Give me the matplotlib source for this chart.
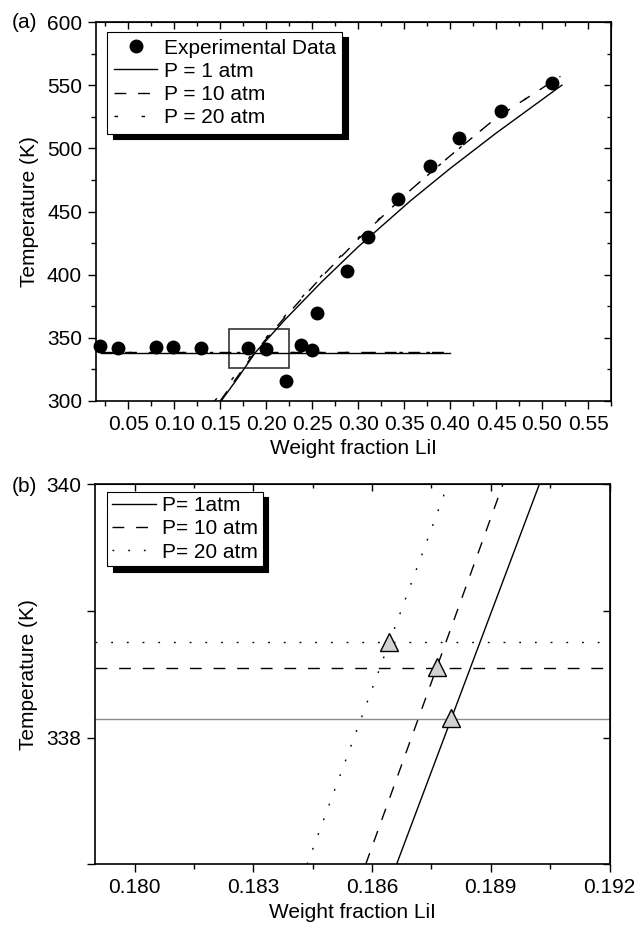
import numpy as np
import matplotlib
matplotlib.use("Agg")
import matplotlib.pyplot as plt
from matplotlib.patches import Rectangle

plt.rcParams['font.family'] = ['Liberation Sans', 'DejaVu Sans']
plt.rcParams['font.size'] = 15

# ---- (a) données ----
x_exp = [0.019, 0.039, 0.080, 0.099, 0.129, 0.180, 0.200, 0.222, 0.238, 0.250,
         0.255, 0.288, 0.311, 0.343, 0.378, 0.410, 0.455, 0.511]
T_exp = [343.7, 341.7, 342.7, 342.5, 341.7, 341.7, 341.1, 315.8, 344.5, 340.6,
         369.9, 402.8, 429.5, 460.0, 486.1, 508.3, 529.9, 551.8]

x_plateau = [0.02, 0.40]
T_plateau_1 = 338.15
T_plateau_10 = 338.55
T_plateau_20 = 338.75

x_rise_1 = [0.151, 0.170, 0.188, 0.22, 0.26, 0.30, 0.357, 0.40, 0.45, 0.5216]
T_rise_1 = [300, 319, 338.15, 364, 394, 422, 458.5, 484, 512, 550]
x_rise_10 = [0.150, 0.1876, 0.22, 0.26, 0.30, 0.357, 0.40, 0.45, 0.52]
T_rise_10 = [300, 338.55, 366, 398, 428, 467, 494, 524, 557]
x_rise_20 = [0.144, 0.1864, 0.22, 0.26, 0.30, 0.357, 0.40, 0.45, 0.52]
T_rise_20 = [300, 338.75, 367, 399, 429, 467, 494, 524, 557]

zoom_box = (0.1594, 325.9, 0.2253, 356.7)

# ---- (b) données ----
x_slant_1 = [0.18662, 0.19023]
x_slant_10 = [0.18584, 0.18931]
x_slant_20 = [0.18436, 0.18792]
T_slant = [337, 340]
x_tri = [0.18643, 0.18763, 0.18799]
T_tri = [338.755, 338.553, 338.155]

dash10 = (0, (8.5, 8.5))
dash20_a = (0, (2.5, 17))
dot20_b = (0, (1.3, 10))

fig = plt.figure(figsize=(6.35, 9.25), dpi=100)
ax1 = fig.add_axes([96/635, 1-401/925, 515/635, 379/925])
ax2 = fig.add_axes([95/635, 1-864.3/925, 514.5/635, 380.3/925])


def mirror_ticks(ax, xmaj, xmin, ymaj, ymin):
    top = ax.secondary_xaxis('top')
    top.set_xticks(xmaj)
    top.set_xticks(xmin, minor=True)
    top.tick_params(which='both', direction='in', labeltop=False, width=1)
    top.tick_params(which='major', length=5)
    top.tick_params(which='minor', length=3)
    right = ax.secondary_yaxis('right')
    right.set_yticks(ymaj)
    right.set_yticks(ymin, minor=True)
    right.tick_params(which='both', direction='in', labelright=False, width=1)
    right.tick_params(which='major', length=5)
    right.tick_params(which='minor', length=3)


# ---------- (a) ----------
ax1.plot(x_exp, T_exp, 'o', color='k', ms=9, zorder=5, clip_on=False,
         label='Experimental Data')
ax1.plot(x_rise_1, T_rise_1, '-', color='k', lw=1, label='P = 1 atm')
ax1.plot(x_plateau, [T_plateau_1]*2, '-', color='k', lw=1)
ax1.plot(x_rise_10, T_rise_10, color='k', lw=1, linestyle=dash10, label='P = 10 atm')
ax1.plot(x_plateau, [T_plateau_10]*2, color='k', lw=1, linestyle=dash10)
ax1.plot(x_rise_20, T_rise_20, color='k', lw=1, linestyle=dash20_a, label='P = 20 atm')
ax1.plot(x_plateau, [T_plateau_20]*2, color='k', lw=1, linestyle=dash20_a)
ax1.add_patch(Rectangle((zoom_box[0], zoom_box[1]), zoom_box[2]-zoom_box[0],
                        zoom_box[3]-zoom_box[1], fill=False, ec='#333333', lw=1.2))

ax1.set_xlim(0.015, 0.575)
ax1.set_ylim(300, 600)
xt1 = np.arange(0.05, 0.551, 0.05)
xm1 = np.arange(0.025, 0.576, 0.05)
yt1 = np.arange(300, 601, 50)
ym1 = np.arange(325, 600, 50)
ax1.set_xticks(xt1)
ax1.set_xticklabels(['%.2f' % v for v in xt1])
ax1.set_xticks(xm1, minor=True)
ax1.set_yticks(yt1)
ax1.set_yticks(ym1, minor=True)
ax1.tick_params(which='both', direction='out', width=1, pad=4)
ax1.tick_params(which='major', length=6)
ax1.tick_params(which='minor', length=3.5)
mirror_ticks(ax1, xt1, xm1, yt1, ym1)
ax1.set_xlabel('Weight fraction LiI', labelpad=4)
ax1.set_ylabel('Temperature (K)', labelpad=6)
for s in ax1.spines.values():
    s.set_linewidth(1.2)
leg1 = ax1.legend(loc='upper left', bbox_to_anchor=(0.0214, 0.974), borderaxespad=0,
                  fancybox=False, edgecolor='k', framealpha=1, fontsize=15,
                  labelspacing=0.2, handlelength=2.1, handletextpad=0.3,
                  borderpad=0.32, shadow={'color': 'k', 'alpha': 1, 'ox': 4, 'oy': -4})
leg1.get_frame().set_linewidth(0.8)
fig.text(12/635, 1-22/925, '(a)', fontsize=15, va='center', ha='left')

# ---------- (b) ----------
ax2.plot(x_slant_1, T_slant, '-', color='k', lw=1, label='P= 1atm')
ax2.plot(x_slant_10, T_slant, color='k', lw=1, linestyle=dash10, label='P= 10 atm')
ax2.plot(x_slant_20, T_slant, color='k', lw=1, linestyle=dot20_b, label='P= 20 atm')
ax2.axhline(T_plateau_1, color='#8c8c8c', lw=1)
ax2.axhline(T_plateau_10, color='k', lw=1, linestyle=dash10)
ax2.axhline(T_plateau_20, color='k', lw=1, linestyle=dot20_b)
ax2.plot(x_tri, T_tri, '^', ms=13.5, mfc='#d2d2d2', mec='k', mew=1, ls='none', zorder=5)

ax2.set_xlim(0.179, 0.192)
ax2.set_ylim(337, 340)
xt2 = [0.180, 0.183, 0.186, 0.189, 0.192]
xm2 = [0.1815, 0.1845, 0.1875, 0.1905]
yt2 = [337, 338, 339, 340]
ax2.set_xticks(xt2)
ax2.set_xticklabels(['%.3f' % v for v in xt2])
ax2.set_xticks(xm2, minor=True)
ax2.set_yticks(yt2)
ax2.set_yticklabels(['', '338', '', '340'])
ax2.tick_params(which='both', direction='out', width=1, pad=4)
ax2.tick_params(which='major', length=6)
ax2.tick_params(which='minor', length=3.5)
mirror_ticks(ax2, xt2, xm2, yt2, [])
ax2.set_xlabel('Weight fraction LiI', labelpad=4)
ax2.set_ylabel('Temperature (K)', labelpad=6)
for s in ax2.spines.values():
    s.set_linewidth(1.2)
leg2 = ax2.legend(loc='upper left', bbox_to_anchor=(0.024, 0.98), borderaxespad=0,
                  fancybox=False, edgecolor='k', framealpha=1, fontsize=15,
                  labelspacing=0.2, handlelength=2.1, handletextpad=0.3,
                  borderpad=0.22, shadow={'color': 'k', 'alpha': 1, 'ox': 4, 'oy': -4})
leg2.get_frame().set_linewidth(0.8)
fig.text(12/635, 1-487/925, '(b)', fontsize=15, va='center', ha='left')

fig.savefig('out.png', dpi=100)
